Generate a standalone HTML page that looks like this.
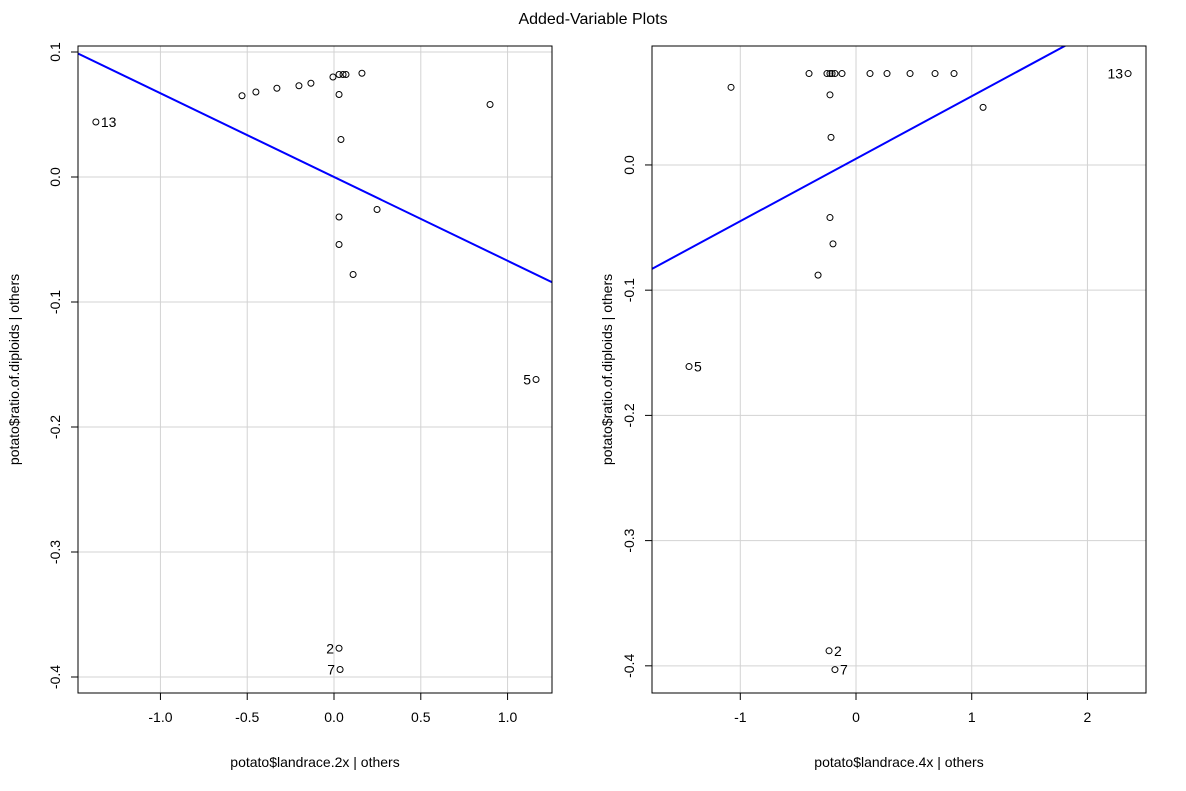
<!DOCTYPE html>
<html><head><meta charset="utf-8"><style>
body{margin:0;background:#fff;}
svg{display:block;font-family:"Liberation Sans",Arial,sans-serif;}
</style></head><body>
<svg id="c" width="1186" height="791">
<defs>
<clipPath id="clipL"><rect x="78" y="46" width="474" height="647"/></clipPath>
<clipPath id="clipR"><rect x="652" y="46" width="494" height="647"/></clipPath>
</defs>
<text x="593" y="24" text-anchor="middle" font-size="16">Added-Variable Plots</text>
</svg>
<script>
const leftX=[-0.530,-0.450,-0.329,-0.202,-0.133,-0.006,0.029,0.052,0.069,0.161,0.029,0.040,0.029,0.029,0.110,0.248,0.899,-1.372,1.164,0.029,0.035];
const leftY=[0.065,0.068,0.071,0.073,0.075,0.080,0.082,0.082,0.082,0.083,0.066,0.030,-0.032,-0.054,-0.078,-0.026,0.058,0.044,-0.162,-0.377,-0.394];
const leftLabels=["","","","","","","","","","","","","","","","","","13","5","2","7"];
const leftLabelSide=[0,0,0,0,0,0,0,0,0,0,0,0,0,0,0,0,0,1,-1,-1,-1];
const leftXTicks=[-1.0,-0.5,0.0,0.5,1.0];
const leftXTickLabels=["-1.0","-0.5","0.0","0.5","1.0"];
const leftYTicks=[0.1,0.0,-0.1,-0.2,-0.3,-0.4];
const leftYTickLabels=["0.1","0.0","-0.1","-0.2","-0.3","-0.4"];
const leftFit=[0.0,-0.067];
const rightX=[-0.406,-0.251,-0.225,-0.207,-0.182,-0.121,0.121,0.268,0.467,0.683,0.847,-1.080,-0.225,-0.216,1.098,2.351,-0.225,-0.199,-0.328,-1.443,-0.233,-0.182];
const rightY=[0.073,0.073,0.073,0.073,0.073,0.073,0.073,0.073,0.073,0.073,0.073,0.062,0.056,0.022,0.046,0.073,-0.042,-0.063,-0.088,-0.161,-0.388,-0.403];
const rightLabels=["","","","","","","","","","","","","","","","13","","","","5","2","7"];
const rightLabelSide=[0,0,0,0,0,0,0,0,0,0,0,0,0,0,0,-1,0,0,0,1,1,1];
const rightXTicks=[-1,0,1,2];
const rightXTickLabels=["-1","0","1","2"];
const rightYTicks=[0.0,-0.1,-0.2,-0.3,-0.4];
const rightYTickLabels=["0.0","-0.1","-0.2","-0.3","-0.4"];
const rightFit=[0.005,0.0499];

const svg=document.getElementById('c');
const NS="http://www.w3.org/2000/svg";
function mk(t,a,p){const e=document.createElementNS(NS,t);for(const k in a)e.setAttribute(k,a[k]);(p||svg).appendChild(e);return e;}

function panel(o){
  const g=mk('g',{});
  
  
  const sx=v=>o.x0+(v-o.xmin)/(o.xmax-o.xmin)*(o.x1-o.x0);
  const sy=v=>o.y1-(v-o.ymin)/(o.ymax-o.ymin)*(o.y1-o.y0);
  o.xt.forEach((t,i)=>{
    const l=mk('line',{x1:sx(t),x2:sx(t),y1:o.y0,y2:o.y1,stroke:'#d3d3d3','stroke-width':1},g);
    
    
    const tk=mk('line',{x1:sx(t),x2:sx(t),y1:o.y1,y2:o.y1+7,stroke:'#000'},g);
    
    
    const tx=mk('text',{x:sx(t),y:o.y1+29,'text-anchor':'middle','font-size':14},g);
    tx.textContent=o.xl[i];
    
    
  });
  o.yt.forEach((t,i)=>{
    const l=mk('line',{x1:o.x0,x2:o.x1,y1:sy(t),y2:sy(t),stroke:'#d3d3d3','stroke-width':1},g);
    
    
    const tk=mk('line',{x1:o.x0-7,x2:o.x0,y1:sy(t),y2:sy(t),stroke:'#000'},g);
    
    
    const tx=mk('text',{x:0,y:0,'text-anchor':'middle','font-size':14,transform:`translate(${o.x0-18},${sy(t)}) rotate(-90)`},g);
    tx.textContent=o.yl[i];
    
    
  });
  const fx0=o.xmin,fx1=o.xmax;
  const fl=mk('line',{x1:sx(fx0),y1:sy(o.fit[0]+o.fit[1]*fx0),x2:sx(fx1),y2:sy(o.fit[0]+o.fit[1]*fx1),stroke:'#0000ff','stroke-width':2,'clip-path':o.clip},g);
  
  
  o.px.forEach((v,i)=>{
    const c=mk('circle',{cx:sx(v),cy:sy(o.py[i]),r:3,fill:'none',stroke:'#000','stroke-width':1},g);
    
    
    if(o.lab[i]){
      const s=o.side[i];
      const tx=mk('text',{x:sx(v)+s*5,y:sy(o.py[i])+5,'text-anchor':s>0?'start':'end','font-size':14},g);
      tx.textContent=o.lab[i];
      
      
    }
  });
  const fr=mk('rect',{x:o.x0,y:o.y0,width:o.x1-o.x0,height:o.y1-o.y0,fill:'none',stroke:'#000'},g);
  
  
  const xt=mk('text',{x:(o.x0+o.x1)/2,y:767,'text-anchor':'middle','font-size':14},g);
  xt.textContent=o.xtitle;
  
  
  const yt=mk('text',{x:0,y:0,'text-anchor':'middle','font-size':14,transform:`translate(${o.ytx},${(o.y0+o.y1)/2}) rotate(-90)`},g);
  yt.textContent=o.ytitle;
  
  
}
panel({name:'left-panel',x0:78,x1:552,y0:46,y1:693,xmin:-1.475,xmax:1.256,ymin:-0.4128,ymax:0.1048,clip:'url(#clipL)',ytx:19,
  xt:leftXTicks,xl:leftXTickLabels,yt:leftYTicks,yl:leftYTickLabels,fit:leftFit,px:leftX,py:leftY,lab:leftLabels,side:leftLabelSide,
  xtitle:'potato$landrace.2x | others',ytitle:'potato$ratio.of.diploids  | others'});
panel({name:'right-panel',x0:652,x1:1146,y0:46,y1:693,xmin:-1.763,xmax:2.506,ymin:-0.4217,ymax:0.095,clip:'url(#clipR)',ytx:612,
  xt:rightXTicks,xl:rightXTickLabels,yt:rightYTicks,yl:rightYTickLabels,fit:rightFit,px:rightX,py:rightY,lab:rightLabels,side:rightLabelSide,
  xtitle:'potato$landrace.4x | others',ytitle:'potato$ratio.of.diploids  | others'});
</script>
</body></html>
